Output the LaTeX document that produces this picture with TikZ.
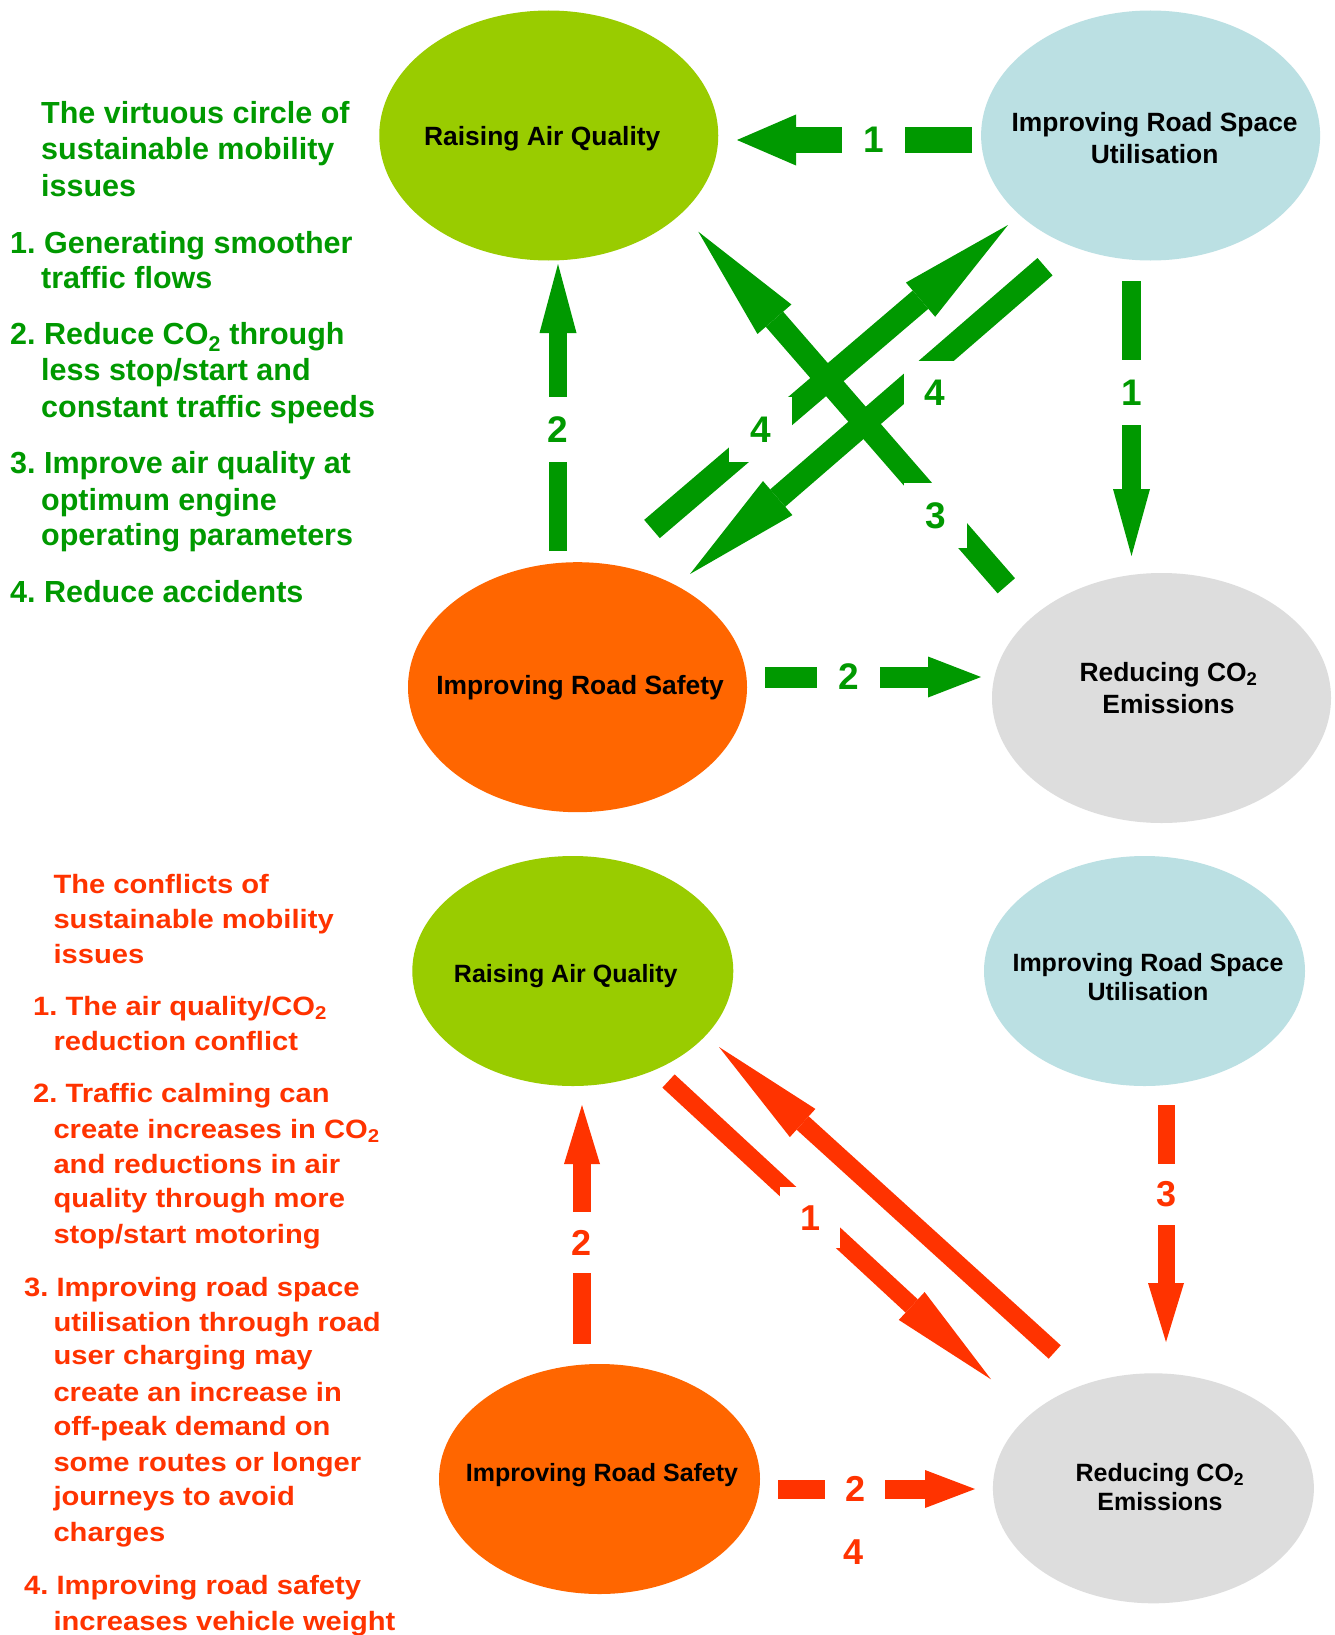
\documentclass[tikz,border=0pt]{standalone}
\usepackage{fontspec}
\setmainfont{Liberation Sans}
\newfontfamily\widesans{Liberation Sans}[FakeStretch=1.1]
\usetikzlibrary{shapes.geometric,arrows.meta}
\definecolor{vgreen}{HTML}{009900}
\definecolor{cred}{HTML}{FF3300}
\definecolor{airgreen}{HTML}{99CC00}
\definecolor{spaceblue}{HTML}{BBE0E3}
\definecolor{safeorange}{HTML}{FF6600}
\definecolor{cogrey}{HTML}{DDDDDD}
\frenchspacing

\begin{document}
\begin{tikzpicture}[x=1pt,y=-1pt,
  issue/.style={ellipse, inner sep=0pt, fill=#1},
  bigissue/.style={issue=#1, minimum width=339pt, minimum height=250pt},
  smallissue/.style={issue=#1, minimum width=321pt, minimum height=230pt},
  toptext/.style={align=center, inner sep=0pt, font=\bfseries\fontsize{26.4}{31.6}\selectfont},
  lowtext/.style={align=center, inner sep=0pt, font=\bfseries\fontsize{25}{29.3}\selectfont},
  gline/.style={anchor=base west, inner sep=0pt, text=vgreen, font=\bfseries\fontsize{30.5}{36}\selectfont},
  rline/.style={anchor=base west, inner sep=0pt, text=cred, font=\widesans\bfseries\fontsize{26.5}{34.8}\selectfont},
  gnum/.style={fill=white, inner sep=0pt, minimum width=63pt, minimum height=65pt, text=vgreen, font=\bfseries\fontsize{37}{40}\selectfont},
  rnum/.style={fill=white, inner sep=0pt, minimum width=60pt, minimum height=61pt, text=cred, font=\bfseries\fontsize{36}{40}\selectfont},
  garrow/.style n args={3}{draw=vgreen, line width=#1, -{Triangle[length=#2, width=#3, line width=0pt]}},
  rarrow/.style n args={3}{draw=cred, line width=#1, -{Triangle[length=#2, width=#3, line width=0pt]}}]
\useasboundingbox (0,0) rectangle (1334,1635);
\fill[white] (0,0) rectangle (1334,1635);

%Shape: Ellipse (virtuous circle)
\node[bigissue=airgreen] (raqT) at (548.75,135.5) {};
\node[bigissue=spaceblue] (irsuT) at (1150.6,135.5) {};
\node[bigissue=safeorange] (irsT) at (577.5,687.2) {};
\node[bigissue=cogrey] (co2T) at (1161.5,698) {};
%Shape: Ellipse (conflicts)
\node[smallissue=airgreen] (raqB) at (572.8,971) {};
\node[smallissue=spaceblue] (irsuB) at (1144.5,971) {};
\node[smallissue=safeorange] (irsB) at (599.5,1479) {};
\node[smallissue=cogrey] (co2B) at (1153.4,1488.3) {};

% Text Node
\node[toptext] (raqTt) at ([shift={(-6.5,3)}]raqT.center) {Raising Air Quality};
\node[toptext] (irsuTt) at ([shift={(4,2.5)}]irsuT.center) {Improving Road Space\\Utilisation};
\node[toptext] (irsTt) at ([shift={(2.5,0.9)}]irsT.center) {Improving Road Safety};
\node[toptext] (co2Tt) at ([shift={(7,-10)}]co2T.center) {Reducing CO\textsubscript{2}\\Emissions};
\node[lowtext] (raqBt) at ([shift={(-7,5)}]raqB.center) {Raising Air Quality};
\node[lowtext] (irsuBt) at ([shift={(3.5,6)}]irsuB.center) {Improving Road Space\\Utilisation};
\node[lowtext] (irsBt) at ([shift={(2.5,-4)}]irsB.center) {Improving Road Safety};
\node[lowtext] (co2Bt) at ([shift={(6.5,-1.3)}]co2B.center) {Reducing CO\textsubscript{2}\\Emissions};

%Shape: Block arrows (green)
\coordinate (a1s) at (972,140);      \coordinate (a1e) at (737,140);
\coordinate (a2s) at (558,551);      \coordinate (a2e) at (558,264);
\coordinate (a3s) at (1131.5,281);   \coordinate (a3e) at (1131.5,556);
\coordinate (a4s) at (765,677);      \coordinate (a4e) at (981,677);
\coordinate (a5s) at (1006.3,585.8); \coordinate (a5e) at (698.3,231.7);
\coordinate (a6s) at (652,529);      \coordinate (a6e) at (1008,225);
\coordinate (a7s) at (1045,266.7);   \coordinate (a7e) at (690,574);
\draw[garrow={26pt}{59pt}{51pt}] (a1s) -- (a1e);
\draw[garrow={18pt}{69pt}{37pt}] (a2s) -- (a2e);
\draw[garrow={19pt}{67pt}{37pt}] (a3s) -- (a3e);
\draw[garrow={21pt}{53pt}{41pt}] (a4s) -- (a4e);
\draw[garrow={23pt}{116pt}{45pt}] (a5s) -- (a5e);
\draw[garrow={24pt}{115pt}{45pt}] (a6s) -- (a6e);
\draw[garrow={23pt}{116pt}{45pt}] (a7s) -- (a7e);

%Shape: Block arrows (red)
\coordinate (b1s) at (582,1344);      \coordinate (b1e) at (582,1105);
\coordinate (b2s) at (1166,1105);     \coordinate (b2e) at (1166,1342);
\coordinate (b3s) at (778,1489);      \coordinate (b3e) at (975,1489);
\coordinate (b4s) at (668.5,1081);    \coordinate (b4e) at (991,1379.3);
\coordinate (b5s) at (1054.7,1352);   \coordinate (b5e) at (719,1047);
\draw[rarrow={18pt}{59pt}{36pt}] (b1s) -- (b1e);
\draw[rarrow={17pt}{59pt}{36pt}] (b2s) -- (b2e);
\draw[rarrow={19pt}{50pt}{38pt}] (b3s) -- (b3e);
\draw[rarrow={18pt}{108pt}{38pt}] (b4s) -- (b4e);
\draw[rarrow={18pt}{113pt}{38pt}] (b5s) -- (b5e);

% Text Node (arrow numbers)
\node[gnum] (n1a) at (873.5,140) {1};
\node[gnum] (n2a) at (558,429.5) {2};
\node[gnum] (n1b) at (1131.5,392.5) {1};
\node[gnum] (n2b) at (848.5,677) {2};
\node[gnum] (n4a) at (760.5,429.5) {4};
\node[gnum] (n4b) at (935,393) {4};
\node[gnum] (n3a) at (935.5,515.5) {3};
\node[rnum] (m2a) at (582,1242.5) {2};
\node[rnum] (m3a) at (1166,1194) {3};
\node[rnum] (m1a) at (810,1217.7) {1};
\node[rnum] (m2b) at (855,1489) {2};
\node[rnum] (m4a) at (853,1552) {4};

% Text Node (virtuous circle)
\node[gline] (g1) at (41,124) {The virtuous circle of};
\node[gline] (g2) at (41,160) {sustainable mobility};
\node[gline] (g3) at (41,196.5) {issues};
\node[gline] (g4) at (10,253) {1. Generating smoother};
\node[gline] (g5) at (41,288.5) {traffic flows};
\node[gline] (g6) at (10,344.7) {2. Reduce CO\textsubscript{2} through};
\node[gline] (g7) at (41,380.6) {less stop/start and};
\node[gline] (g8) at (41,417) {constant traffic speeds};
\node[gline] (g9) at (10,473) {3. Improve air quality at};
\node[gline] (g10) at (41,510) {optimum engine};
\node[gline] (g11) at (41,545.5) {operating parameters};
\node[gline] (g12) at (10,602.8) {4. Reduce accidents};

% Text Node (conflicts)
\node[rline] (r1) at (53.3,893) {The conflicts of};
\node[rline] (r2) at (53.3,928.7) {sustainable mobility};
\node[rline] (r3) at (53.3,963) {issues};
\node[rline] (r4) at (33,1015) {1. The air quality/CO\textsubscript{2}};
\node[rline] (r5) at (53.3,1050.4) {reduction conflict};
\node[rline] (r6) at (33,1102.7) {2. Traffic calming can};
\node[rline] (r7) at (53.3,1138.2) {create increases in CO\textsubscript{2}};
\node[rline] (r8) at (53.3,1173) {and reductions in air};
\node[rline] (r9) at (53.3,1207.6) {quality through more};
\node[rline] (r10) at (53.3,1243) {stop/start motoring};
\node[rline] (r11) at (24,1296.4) {3. Improving road space};
\node[rline] (r12) at (53.3,1331) {utilisation through road};
\node[rline] (r13) at (53.3,1364.8) {user charging may};
\node[rline] (r14) at (53.3,1401.4) {create an increase in};
\node[rline] (r15) at (53.3,1435.8) {off-peak demand on};
\node[rline] (r16) at (53.3,1471.3) {some routes or longer};
\node[rline] (r17) at (53.3,1505.8) {journeys to avoid};
\node[rline] (r18) at (53.3,1541.3) {charges};
\node[rline] (r19) at (24,1594.6) {4. Improving road safety};
\node[rline] (r20) at (53.3,1630) {increases vehicle weight};
\end{tikzpicture}
\end{document}
